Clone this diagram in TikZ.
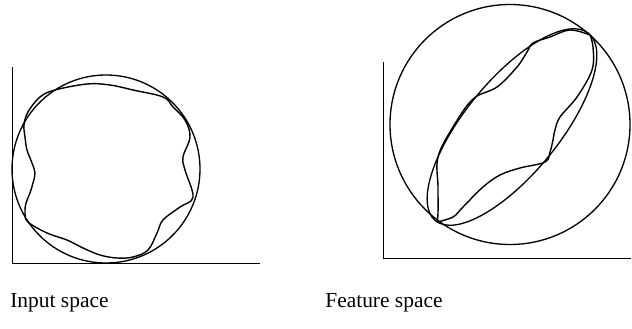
\documentclass[tikz,border=0pt]{standalone}
\usepackage{fontspec}
\setmainfont{Liberation Serif}
\usepackage{tikz}
\usetikzlibrary{calc}

\tikzset{
  axis/.style={line width=0.5pt},
  bound/.style={line width=0.75pt},
  wave/.style={line width=0.8pt,smooth,tension=0.6},
  caption/.style={anchor=base west,inner sep=0pt,font=\fontsize{12.2}{14}\selectfont}
}

\begin{document}
\begin{tikzpicture}[x=0.02cm,y=-0.02cm]
  \useasboundingbox (0,0) rectangle (632,328);

  % Origins and centres
  \coordinate (O1) at (12,263);
  \coordinate (O2) at (383,258);
  \coordinate (C1) at (106,169);
  \coordinate (C2) at (510,124.5);
  \coordinate (E2) at (512,127);

  % Axes
  \draw[axis] (12,67) -- (O1) -- (260,263);
  \draw[axis] (383,62) -- (O2) -- (631,258);

  % Input space: sphere and wavy data
  \draw[bound] (C1) circle (94);
  \draw[wave] plot[smooth cycle] coordinates {
    (24,125) (28,112) (40,97) (55,90) (87,84) (110,85) (133,90) (163,97)
    (173,107) (185,120) (190,137) (183,157) (185,170) (193,197)
    (180,207) (163,220) (157,233) (148,250) (133,257) (117,258)
    (100,255) (83,248) (67,240) (47,233) (28,222)
    (25,213) (26,203) (30,193) (33,183) (35,173) (32,163) (27,150) (25,137)};

  % Feature space: sphere, ellipse and wavy data
  \draw[bound] (C2) circle (120);
  \draw[bound,rotate around={50.7:(E2)}] (E2) ellipse [x radius=121,y radius=47];
  \draw[wave] plot coordinates {
    (437,222) (438,213) (438,187) (438,157) (453,127) (473,99)
    (497,87) (517,67) (527,52) (533,43) (550,37) (570,30) (590,35)};
  \draw[wave] plot coordinates {
    (590,35) (593,47) (592,70) (577,97) (560,117) (555,130) (553,140)
    (550,152) (545,162) (520,168) (500,175) (483,187) (463,207) (453,217) (437,222)};

  % Captions
  \node[caption] (in) at (10,307) {Input space};
  \node[caption] (fs) at (325,307) {Feature space};
\end{tikzpicture}
\end{document}
